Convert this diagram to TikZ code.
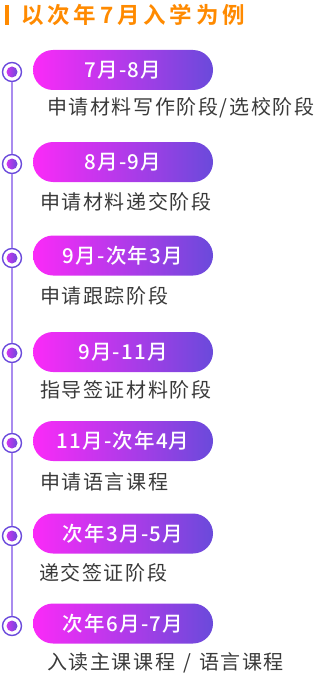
\documentclass[tikz,border=0pt]{standalone}
\usepackage{fontspec}
\newfontfamily\cjk[LetterSpace=8]{Noto Sans CJK SC}
\newfontfamily\cjkpill[LetterSpace=6]{Noto Sans CJK SC Medium}
\newfontfamily\cjktitle[LetterSpace=17]{Noto Sans CJK SC Bold}
\definecolor{titleorange}{HTML}{FF8A00}
\definecolor{pillL}{HTML}{FB2AF8}
\definecolor{pillR}{HTML}{6A4ADB}
\definecolor{ringc}{HTML}{6B4ADB}
\definecolor{linec}{HTML}{A98BEF}
\definecolor{labelc}{HTML}{3A3A3A}
\tikzset{
  pill/.style={rounded corners=20pt, minimum width=180pt, minimum height=40pt,
    inner sep=0pt, left color=pillL, right color=pillR, text=white,
    font=\cjkpill\fontsize{20.5}{20.5}\selectfont},
  ring/.style={circle, draw=ringc, line width=1.4pt, fill=white, minimum size=19pt, inner sep=0pt},
  dot/.style={circle, minimum size=11pt, inner sep=0pt, left color=pillL!70!pillR, right color=pillR},
  lab/.style={anchor=west, inner sep=0pt, text=labelc, font=\cjk\fontsize{20}{20}\selectfont},
  tline/.style={draw=linec, line width=1.5pt}
}
\begin{document}
\begin{tikzpicture}[x=1pt,y=-1pt]
\useasboundingbox (0,0) rectangle (317,674);
% title
\fill[titleorange] (5,5) rectangle (8.5,25);
\node[anchor=west, inner sep=0pt, text=titleorange, font=\cjktitle\fontsize{22.5}{22.5}\selectfont] (title) at (21,15) {以次年7月入学为例};
% stages
\foreach \i/\py/\cy/\ly/\lx/\dt/\tx in {
  1/70/72/108/47/{7月-8月}/{申请材料写作阶段/选校阶段},
  2/162/164/202/40/{8月-9月}/{申请材料递交阶段},
  3/255.5/258/296/40/{9月-次年3月}/{申请跟踪阶段},
  4/352/353/390/40/{9月-11月}/{指导签证材料阶段},
  5/441/443/482/40/{11月-次年4月}/{申请语言课程},
  6/533.5/536/573/39/{次年3月-5月}/{递交签证阶段},
  7/623.5/626/663/47/{次年6月-7月}/{入读主课课程\hspace{8pt}/\hspace{8pt}语言课程}}{
  \node[pill] (p\i) at (123,\py) {\dt};
  \node[ring] (c\i) at (12,\cy) {};
  \node[dot] (d\i) at (c\i) {};
  \node[lab] (l\i) at (\lx,\ly) {\tx};
}
\foreach \a/\b in {1/2,2/3,3/4,4/5,5/6,6/7}{
  \draw[tline] (c\a.south) -- (c\b.north);
}
\end{tikzpicture}
\end{document}
